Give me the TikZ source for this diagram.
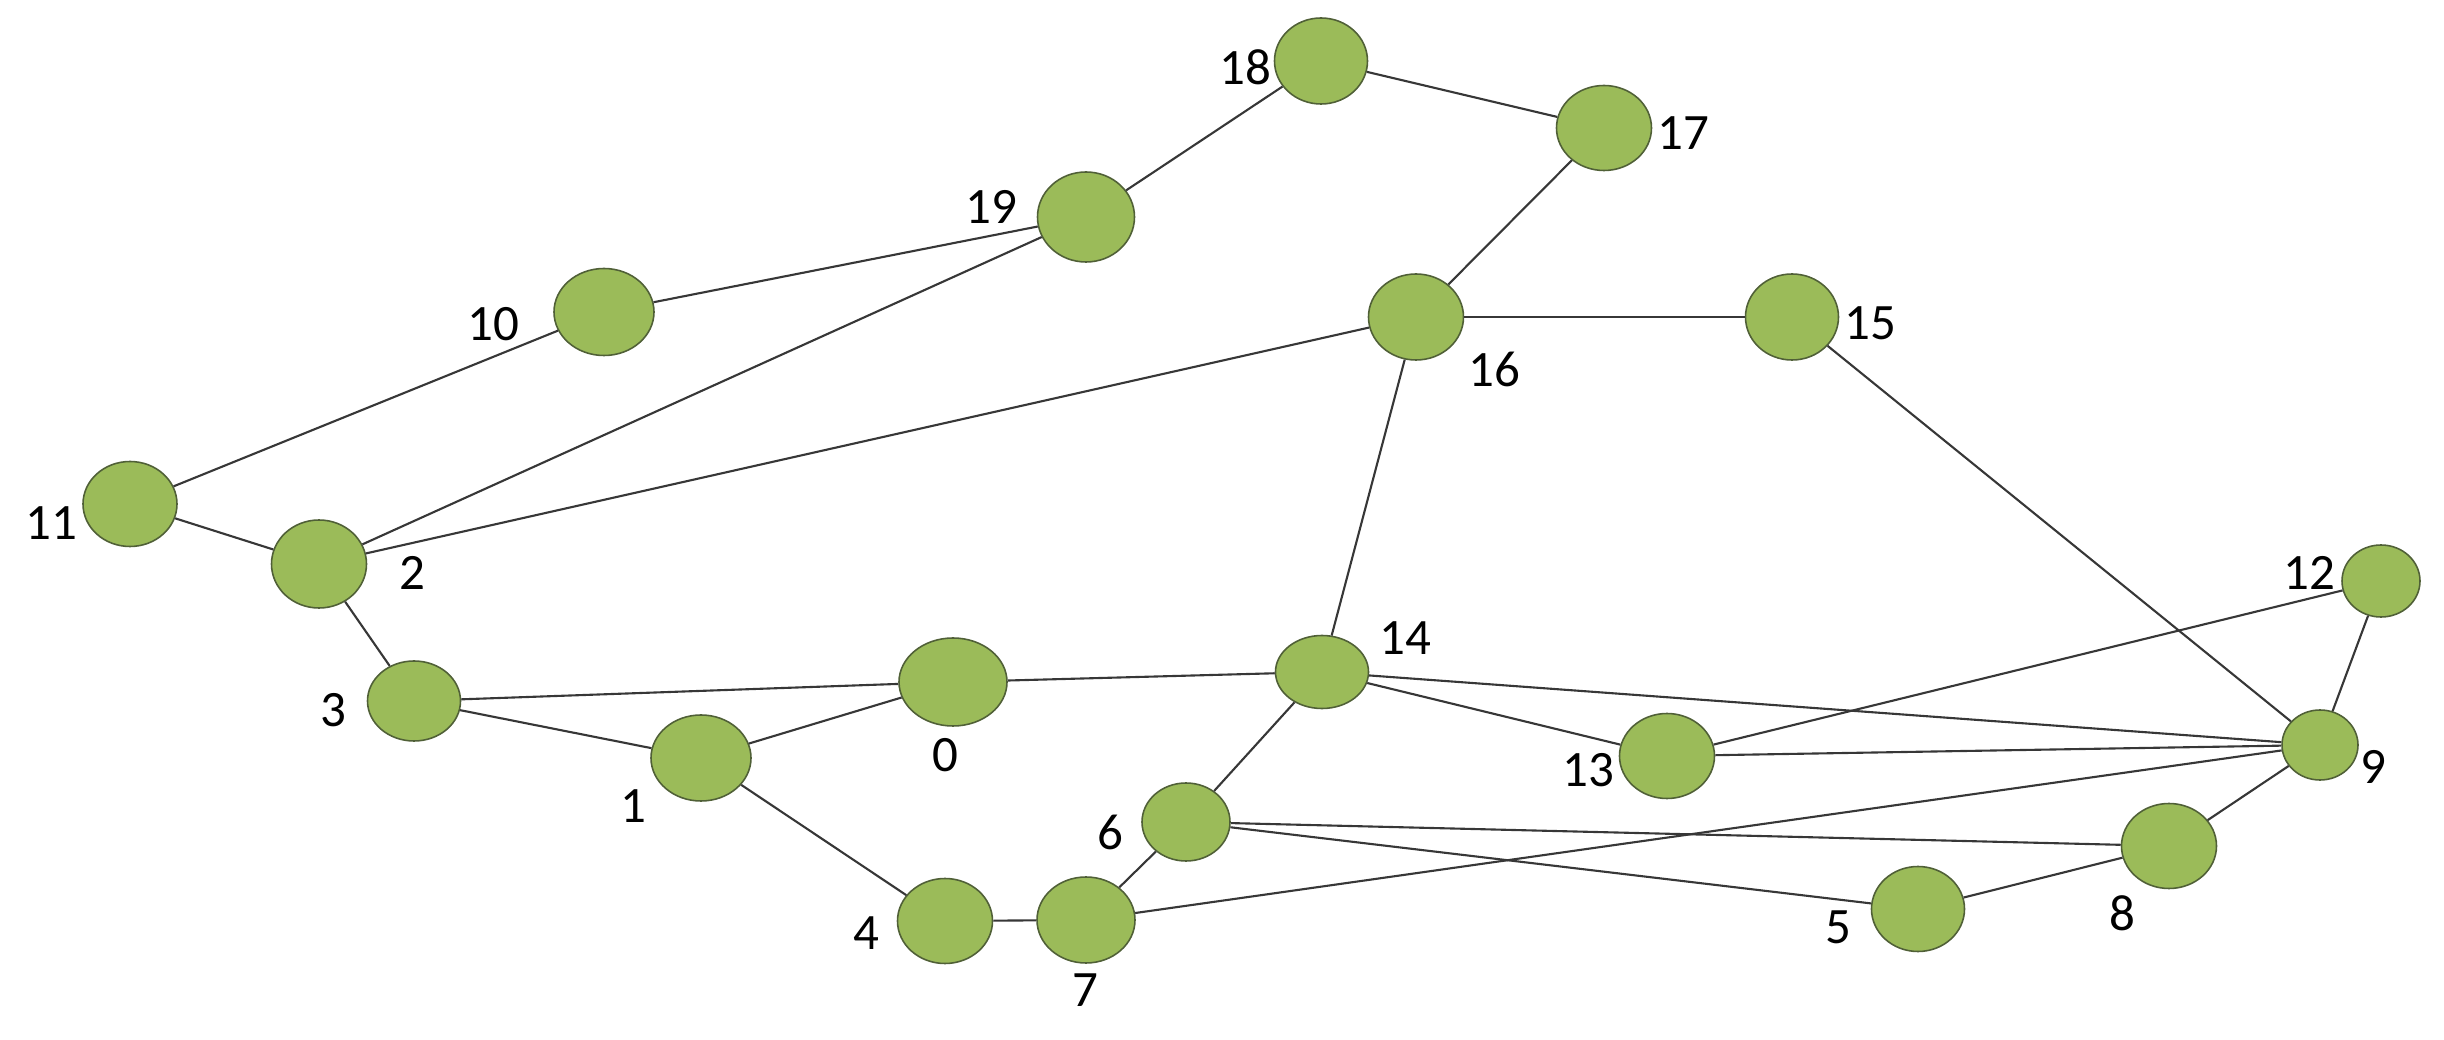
\documentclass[tikz,border=0pt]{standalone}
\usepackage{fontspec}
\setmainfont{Carlito}
\usetikzlibrary{shapes.geometric}
\definecolor{vfill}{RGB}{155,187,89}
\definecolor{vline}{RGB}{80,96,55}
\definecolor{eline}{RGB}{55,55,55}
\tikzset{
  vx/.style 2 args={ellipse, draw=vline, line width=0.45pt, fill=vfill, inner sep=0pt,
     minimum width=#1*0.01cm, minimum height=#2*0.01cm},
  lab/.style={inner sep=0pt, font=\fontsize{14.5}{17}\selectfont, text=black},
  edge/.style={draw=eline, line width=0.6pt}
}
\begin{document}
\begin{tikzpicture}[x=0.01cm, y=-0.01cm]
\useasboundingbox (0,0) rectangle (2444,1040);
% vertices
\node[vx={108}{88}] (n0) at (953,682) {};
\node[vx={100}{86}] (n1) at (701,758) {};
\node[vx={95}{88}] (n2) at (319,564) {};
\node[vx={93}{80}] (n3) at (414,701) {};
\node[vx={95}{85}] (n4) at (945,921) {};
\node[vx={93}{85}] (n5) at (1918,909) {};
\node[vx={88}{78}] (n6) at (1186,822) {};
\node[vx={98}{86}] (n7) at (1086,920) {};
\node[vx={95}{85}] (n8) at (2169,846) {};
\node[vx={76}{70}] (n9) at (2320,745) {};
\node[vx={100}{87}] (n10) at (604,312) {};
\node[vx={94}{85}] (n11) at (130,504) {};
\node[vx={78}{72}] (n12) at (2381,581) {};
\node[vx={95}{85}] (n13) at (1667,756) {};
\node[vx={93}{73}] (n14) at (1322,672) {};
\node[vx={93}{86}] (n15) at (1792,317) {};
\node[vx={95}{86}] (n16) at (1416,317) {};
\node[vx={95}{85}] (n17) at (1604,128) {};
\node[vx={93}{86}] (n18) at (1321,61) {};
\node[vx={97}{90}] (n19) at (1086,217) {};
% labels
\node[lab] (l0) at (945,755) {0};
\node[lab] (l1) at (633,806) {1};
\node[lab] (l2) at (412,573) {2};
\node[lab] (l3) at (333,710) {3};
\node[lab] (l4) at (866,933) {4};
\node[lab] (l5) at (1838,927) {5};
\node[lab] (l6) at (1110,832) {6};
\node[lab] (l7) at (1085,990) {7};
\node[lab] (l8) at (2122,913) {8};
\node[lab] (l9) at (2373,767) {9};
\node[lab] (l10) at (493,324) {10};
\node[lab] (l11) at (51,523) {11};
\node[lab] (l12) at (2309,573) {12};
\node[lab] (l13) at (1588,770) {13};
\node[lab] (l14) at (1405,638) {14};
\node[lab] (l15) at (1870,323) {15};
\node[lab] (l16) at (1494,369) {16};
\node[lab] (l17) at (1683,133) {17};
\node[lab] (l18) at (1245,67) {18};
\node[lab] (l19) at (991,207) {19};
% edges
\draw[edge] (n18) -- (n17);
\draw[edge] (n18) -- (n19);
\draw[edge] (n19) -- (n10);
\draw[edge] (n19) -- (n2);
\draw[edge] (n10) -- (n11);
\draw[edge] (n11) -- (n2);
\draw[edge] (n2) -- (n16);
\draw[edge] (n2) -- (n3);
\draw[edge] (n16) -- (n17);
\draw[edge] (n16) -- (n15);
\draw[edge] (n16) -- (n14);
\draw[edge] (n15) -- (n9);
\draw[edge] (n3) -- (n0);
\draw[edge] (n3) -- (n1);
\draw[edge] (n1) -- (n0);
\draw[edge] (n1) -- (n4);
\draw[edge] (n0) -- (n14);
\draw[edge] (n14) -- (n13);
\draw[edge] (n14) -- (n9);
\draw[edge] (n14) -- (n6);
\draw[edge] (n13) -- (n9);
\draw[edge] (n13) -- (n12);
\draw[edge] (n12) -- (n9);
\draw[edge] (n9) -- (n8);
\draw[edge] (n9) -- (n7);
\draw[edge] (n8) -- (n5);
\draw[edge] (n6) -- (n8);
\draw[edge] (n6) -- (n5);
\draw[edge] (n6) -- (n7);
\draw[edge] (n4) -- (n7);
\end{tikzpicture}
\end{document}
